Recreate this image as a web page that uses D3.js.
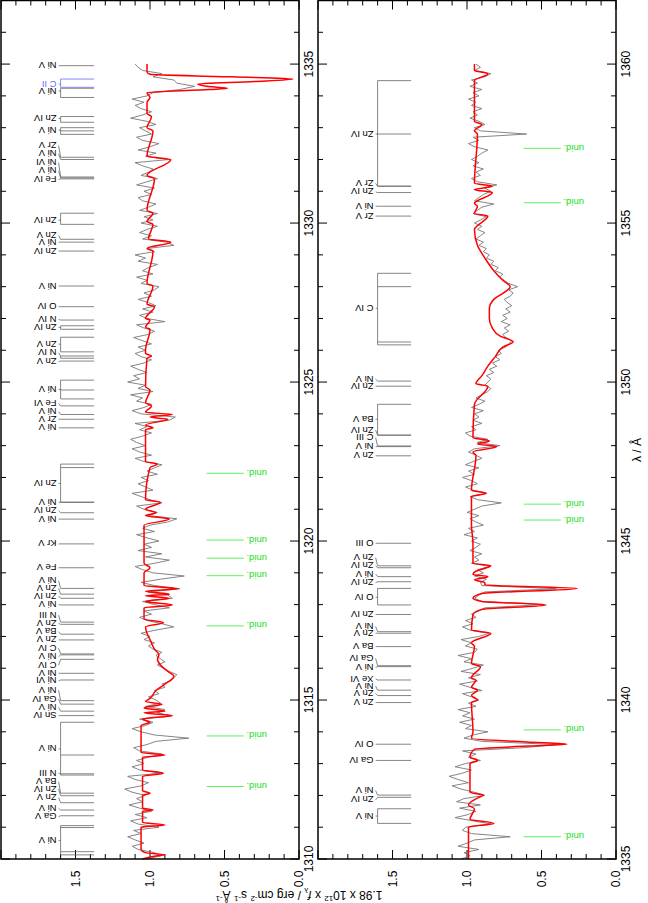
<!DOCTYPE html>
<html><head><meta charset="utf-8">
<script src="https://cdn.jsdelivr.net/npm/d3@7"></script>
<style>body{margin:0;background:#fff}svg{display:block}text{font-family:"Liberation Sans",Arial,sans-serif}</style>
</head><body>
<svg id="c" width="648" height="903"></svg>
<script>
// ---------- DATA ----------
const panelRanges = [[1310, 1337], [1335, 1362]];
const fluxTicks = [0.0, 0.5, 1.0, 1.5];
const fluxTickLabels = ["0.0", "0.5", "1.0", "1.5"];
const lamTicks = [[1310, 1315, 1320, 1325, 1330, 1335], [1335, 1340, 1345, 1350, 1355, 1360]];
const obsStart = [1310.0, 1335.0];
const obsStep = 0.1;
const obsLeft = [
1.02,0.93,0.97,1.08,1.12,1.04,1.10,1.15,1.06,1.11,
0.94,1.08,1.13,1.02,1.10,0.99,1.07,1.14,1.05,1.09,
1.03,1.12,1.17,1.06,1.01,1.10,1.15,0.93,1.07,1.12,
1.04,1.09,1.01,0.92,1.07,1.11,1.02,0.96,0.74,0.97,
1.06,1.12,1.03,0.98,1.07,0.86,0.95,0.90,1.03,0.93,
0.96,1.01,0.94,0.97,0.90,0.92,0.86,0.84,0.82,0.87,
0.91,0.95,0.90,0.93,0.96,0.92,0.98,1.01,0.97,1.04,
1.00,1.06,0.96,0.84,0.92,1.02,1.07,0.99,1.04,0.87,
0.97,1.05,0.85,0.88,1.01,0.80,0.97,1.06,0.93,0.77,
0.98,1.05,1.10,0.97,0.87,1.03,0.92,1.08,0.99,1.04,
0.94,1.02,1.09,0.97,1.05,1.00,0.88,0.82,1.01,0.95,
1.04,1.09,0.92,1.00,1.06,1.12,0.98,1.03,1.08,1.01,
1.06,0.95,1.02,0.97,0.92,1.04,1.10,0.99,1.07,1.12,
1.03,1.09,1.13,1.05,0.99,1.07,1.02,1.10,0.87,0.83,
1.06,1.12,1.04,0.99,1.09,1.05,1.13,0.98,1.08,1.03,
1.15,1.07,1.11,1.02,1.08,1.13,1.04,0.99,1.06,1.10,
1.03,1.08,0.99,1.05,1.11,1.01,0.97,1.04,1.09,0.90,
1.02,1.07,0.98,1.05,0.96,1.01,1.08,0.99,1.04,0.97,
0.94,1.06,1.02,1.09,0.98,1.05,1.01,0.95,1.08,1.03,
1.10,0.97,1.02,0.84,0.89,1.05,0.99,1.07,1.02,0.95,
1.06,0.98,1.04,0.95,1.07,1.01,0.96,1.05,1.08,0.99,
1.04,0.97,1.09,1.02,0.95,1.06,1.01,0.98,1.05,1.10,
0.87,1.03,0.96,1.08,1.00,0.94,1.05,1.09,0.99,1.03,
1.07,0.96,1.02,1.13,1.05,0.99,1.06,1.10,1.04,1.12,
1.02,0.98,0.80,0.70,0.82,0.84,0.98,0.92,1.05,1.08,
1.10];
const obsRight = [
1.04,0.98,1.02,0.92,1.06,1.00,0.95,0.71,0.97,1.03,
1.01,0.84,0.96,1.08,0.99,0.94,1.05,0.91,1.07,1.02,
0.88,0.95,1.04,1.10,0.99,1.06,1.12,1.03,0.97,1.08,
1.01,0.91,0.99,0.94,1.03,0.62,0.40,0.90,1.02,0.96,
0.86,1.01,0.97,1.05,0.95,1.03,0.98,1.06,0.94,0.99,
0.92,0.97,1.03,0.90,0.98,1.05,0.93,0.99,0.91,1.04,
0.96,0.89,1.02,0.97,1.06,0.95,0.93,1.01,0.97,1.04,
0.92,0.85,0.98,1.03,0.96,1.01,0.94,0.97,0.92,0.88,
0.50,0.90,0.95,0.92,0.88,0.40,0.90,0.91,0.87,0.95,
0.89,0.93,0.84,0.97,0.92,0.95,0.90,0.98,0.94,0.91,
0.97,0.93,1.02,0.95,0.99,0.89,0.94,0.98,0.92,1.00,
0.95,0.90,0.77,0.93,0.98,0.87,0.96,1.01,0.93,0.97,
1.03,0.95,0.99,0.92,1.01,0.96,0.90,0.94,0.99,0.95,
0.78,0.93,0.86,0.98,1.01,0.94,0.97,0.90,0.96,0.92,
0.95,0.89,0.97,0.92,0.88,0.94,0.90,0.86,0.84,0.88,
0.86,0.84,0.87,0.82,0.85,0.80,0.83,0.78,0.81,0.77,
0.79,0.74,0.72,0.70,0.74,0.76,0.72,0.75,0.71,0.77,
0.73,0.76,0.71,0.74,0.70,0.73,0.75,0.71,0.69,0.72,
0.66,0.72,0.75,0.78,0.76,0.81,0.79,0.84,0.82,0.87,
0.85,0.89,0.87,0.92,0.89,0.94,0.91,0.88,0.93,0.90,
0.95,0.91,0.87,0.96,0.93,0.90,0.82,0.95,0.92,0.89,
0.84,0.88,0.80,0.93,0.97,0.91,0.94,0.89,0.96,0.92,
0.97,0.93,0.90,0.86,0.95,0.99,0.92,0.96,0.60,0.91,
0.95,0.88,0.92,0.98,0.93,0.96,0.90,0.97,0.94,0.99,
0.92,0.96,0.90,0.98,0.93,0.97,0.88,0.84,0.95,0.91,
0.94];
const modelLeft = [[1310.0,1.05],[1310.1,0.95],[1310.13,0.90],[1310.2,1.03],[1310.3,1.06],[1311.0,1.06],[1311.07,0.90],[1311.15,1.05],[1311.5,1.05],[1311.54,0.98],[1311.6,1.05],[1312.0,1.05],[1312.07,1.0],[1312.15,1.05],[1312.6,1.05],[1312.7,0.91],[1312.8,1.05],[1313.2,1.05],[1313.27,0.9],[1313.35,1.06],[1314.2,1.06],[1314.3,1.0],[1314.4,1.05],[1314.51,0.85],[1314.6,1.04],[1314.65,0.9],[1314.75,1.04],[1314.87,0.92],[1314.95,1.03],[1315.05,1.0],[1315.3,0.96],[1315.5,0.9],[1315.75,0.84],[1315.9,0.88],[1316.1,0.93],[1316.28,0.95],[1316.42,0.94],[1316.6,0.97],[1316.9,1.0],[1317.1,1.02],[1317.3,1.03],[1317.43,0.91],[1317.55,1.04],[1317.9,1.04],[1317.99,0.85],[1318.1,1.03],[1318.2,0.87],[1318.28,1.03],[1318.33,0.87],[1318.42,1.03],[1318.5,0.81],[1318.6,1.04],[1319.0,1.04],[1319.16,1.0],[1319.3,1.04],[1320.5,1.04],[1320.69,0.87],[1320.8,1.03],[1320.89,0.96],[1321.0,1.03],[1321.22,0.93],[1321.3,1.03],[1322.31,1.0],[1322.42,0.95],[1322.5,1.03],[1323.5,1.03],[1323.56,0.98],[1323.65,1.03],[1323.83,0.88],[1323.9,1.0],[1323.98,0.85],[1324.05,1.03],[1324.25,0.99],[1324.35,1.03],[1324.75,1.0],[1324.85,1.03],[1325.75,1.02],[1325.82,0.99],[1325.9,1.03],[1326.0,1.03],[1326.66,1.0],[1326.72,1.03],[1326.95,1.0],[1327.0,1.03],[1327.37,0.97],[1327.45,1.02],[1328.02,0.98],[1328.1,1.02],[1329.12,0.98],[1329.2,1.02],[1329.4,0.86],[1329.5,1.01],[1329.96,0.98],[1330.05,1.02],[1330.31,0.98],[1330.4,1.02],[1331.4,0.97],[1331.5,1.02],[1332.0,0.86],[1332.1,1.02],[1332.9,0.98],[1333.0,1.02],[1333.35,0.99],[1333.45,1.02],[1333.8,1.02],[1333.95,1.0],[1334.1,1.02],[1334.2,0.6],[1334.24,0.48],[1334.3,0.62],[1334.37,0.68],[1334.45,0.3],[1334.53,0.04],[1334.6,0.45],[1334.68,1.0],[1334.75,1.02],[1335.0,1.02]];
const modelRight = [[1335.0,0.99],[1336.0,0.99],[1336.12,0.82],[1336.25,0.98],[1336.58,0.95],[1336.7,0.99],[1336.94,0.92],[1337.01,0.89],[1337.1,0.98],[1338.0,0.98],[1338.1,0.93],[1338.2,0.98],[1338.45,0.95],[1338.55,0.6],[1338.61,0.33],[1338.68,0.6],[1338.8,0.97],[1339.0,0.96],[1339.92,0.97],[1340.0,0.93],[1340.14,0.97],[1340.31,0.93],[1340.4,0.97],[1340.63,0.94],[1340.7,0.97],[1341.05,0.91],[1341.15,0.97],[1341.68,0.95],[1341.8,0.97],[1342.1,0.84],[1342.2,0.97],[1342.69,0.96],[1342.85,0.9],[1342.99,0.47],[1343.1,0.9],[1343.2,0.96],[1343.35,0.9],[1343.51,0.26],[1343.62,0.88],[1343.69,0.88],[1343.78,0.95],[1343.88,0.86],[1343.95,0.96],[1344.05,0.94],[1344.16,0.87],[1344.22,0.84],[1344.3,0.96],[1344.93,0.96],[1345.5,0.97],[1346.4,0.97],[1346.5,0.87],[1346.6,0.97],[1347.68,0.94],[1347.8,0.96],[1347.97,0.80],[1348.05,0.93],[1348.15,0.85],[1348.25,0.96],[1349.3,0.95],[1349.87,0.86],[1349.95,0.94],[1350.2,0.9],[1350.5,0.86],[1350.8,0.81],[1351.1,0.76],[1351.27,0.69],[1351.45,0.78],[1351.7,0.83],[1352.0,0.85],[1352.3,0.85],[1352.6,0.82],[1352.85,0.74],[1353.0,0.71],[1353.2,0.76],[1353.5,0.82],[1353.9,0.88],[1354.3,0.93],[1354.8,0.95],[1355.22,0.86],[1355.3,0.95],[1355.53,0.93],[1355.62,0.95],[1355.96,0.83],[1356.05,0.95],[1356.16,0.83],[1356.25,0.95],[1357.8,0.93],[1357.9,0.95],[1358.1,0.9],[1358.2,0.95],[1359.48,0.95],[1359.7,0.86],[1359.8,0.95],[1360.0,0.95]];
// line identifications: [label, label wavelength, component wavelengths]
const idsLeft = [
["Ni V",1310.58,[1310.13,1310.23,1310.99,1311.05]],["Ga V",1311.33,[1311.36]],["Ni V",1311.59,[1311.54]],
["Zn V",1311.93,[1311.77]],["Zn IV",1312.2,[1311.99]],["Ba V",1312.43,[1312.07]],["N III",1312.7,[1312.68]],
["Ni V",1313.46,[1312.64,1313.27,1314.30]],["Sn IV",1314.51,[1314.51]],["Ni V",1314.77,[1314.65]],
["Ga IV",1315.03,[1314.87]],["Ni V",1315.31,[1314.98]],["Ni VI",1315.6,[1315.63]],["Ni V",1315.84,[1315.84]],
["C IV",1316.1,[1316.28]],["Ni V",1316.36,[1316.42]],["C IV",1316.63,[1316.45]],["Zn V",1316.89,[1316.89]],
["Ba V",1317.15,[1317.07]],["Zn V",1317.41,[1317.38]],["N III",1317.67,[1317.45]],["Ni V",1318.0,[1317.99]],
["Zn IV",1318.27,[1318.2]],["Zn V",1318.51,[1318.33]],["Ni V",1318.75,[1318.51]],["Fe V",1319.16,[1319.16]],
["Kr V",1319.91,[1319.91]],["Ni V",1320.69,[1320.69]],["Zn IV",1320.95,[1320.89]],["Ni V",1321.22,[1321.22]],
["Zn IV",1321.81,[1321.22,1322.31,1322.42]],["Ni V",1323.56,[1323.56]],["Zr V",1323.83,[1323.83]],
["Ni V",1324.07,[1323.98]],["Fe VI",1324.33,[1324.25]],["Ni V",1324.77,[1324.47,1324.75,1325.06]],
["Zn V",1325.64,[1325.66]],["N IV",1325.92,[1325.75,1325.82]],["Zn V",1326.19,[1325.95,1326.41]],
["Zn IV",1326.72,[1326.66,1326.77]],["N IV",1326.97,[1326.95]],["O IV",1327.37,[1327.37]],["Ni V",1328.02,[1328.02]],
["Zn IV",1329.12,[1329.12]],["Ni V",1329.4,[1329.4]],["Zn V",1329.61,[1329.49]],["Zn IV",1330.09,[1329.96,1330.31]],
["Fe IV",1331.37,[1331.39]],["Ni V",1331.64,[1331.42]],["Ni VI",1331.9,[1331.45]],["Ni V",1332.18,[1332.0]],
["Zr V",1332.44,[1332.07]],["Ni V",1332.92,[1332.79,1332.9,1333.0]],["Zn IV",1333.29,[1333.17,1333.35]],
["Ni V",1334.15,[1333.95,1334.24]],["C II",1334.37,[1334.27,1334.53]],["Ni V",1334.95,[1334.95]]];
const idsRight = [
["Ni V",1336.35,[1336.12,1336.58]],["Zn IV",1336.86,[1336.94]],["Ni V",1337.15,[1337.01]],["Ga IV",1338.1,[1338.1]],
["O IV",1338.61,[1338.61]],["Zn V",1339.92,[1339.92]],["Zn V",1340.21,[1340.14]],["Ni V",1340.44,[1340.31]],
["Xe VI",1340.66,[1340.63]],["Ni V",1341.03,[1341.05]],["Ga IV",1341.31,[1341.08]],["Ba V",1341.68,[1341.68]],
["Zn V",1342.1,[1342.1]],["Ni V",1342.31,[1342.15]],["Zn IV",1342.69,[1342.69]],["O IV",1343.23,[1342.99,1343.51]],
["Zn IV",1343.69,[1343.72]],["Ni V",1343.96,[1343.88]],["Zn IV",1344.22,[1344.16]],["Zn V",1344.48,[1344.22]],
["O III",1344.93,[1344.93]],["Zn V",1347.68,[1347.68]],["Ni V",1347.97,[1347.97]],["C III",1348.25,[1347.99]],
["Zn IV",1348.49,[1348.33]],["Ba V",1348.83,[1348.33,1349.3]],["Zn IV",1349.87,[1349.87]],["Ni V",1350.09,[1350.03]],
["C IV",1352.32,[1351.17,1351.26,1353.0,1353.42]],["Zr V",1355.22,[1355.22]],["Ni V",1355.53,[1355.53]],
["Zn IV",1355.98,[1355.96]],["Zr V",1356.25,[1356.16]],["Zn IV",1357.8,[1356.16,1357.8,1359.48]]];
const bluesLeft = ["C II"];
const unidLeft = [1312.28, 1313.87, 1317.33, 1318.91, 1319.46, 1320.03, 1322.13];
const unidRight = [1335.7, 1339.06, 1345.66, 1346.16, 1355.64, 1357.35];

// ---------- DRAW ----------
const svg = d3.select("#c");
const panels = [
  {x0: 1, x1: 299, lam: panelRanges[0], obs: obsLeft, start: obsStart[0], model: modelLeft, ids: idsLeft, unid: unidLeft, ticks: lamTicks[0], blue: true},
  {x0: 318, x1: 616, lam: panelRanges[1], obs: obsRight, start: obsStart[1], model: modelRight, ids: idsRight, unid: unidRight, ticks: lamTicks[1], blue: false}
];
const yTop = 0.5, yBot = 859;
panels.forEach(p => {
  const fx = d3.scaleLinear().domain([0, 2]).range([p.x1, p.x0]);
  const ly = d3.scaleLinear().domain(p.lam).range([yBot, yTop]);
  const g = svg.append("g");
  const lt = d3.range(Math.ceil(p.lam[0]), p.lam[1] + 0.001, 1);
  lt.forEach(l => {
    const major = l % 5 === 0, len = major ? 9 : 5;
    g.append("line").attr("x1", p.x0).attr("x2", p.x0 + len).attr("y1", ly(l)).attr("y2", ly(l)).attr("stroke", "#000");
    g.append("line").attr("x1", p.x1).attr("x2", p.x1 - len).attr("y1", ly(l)).attr("y2", ly(l)).attr("stroke", "#000");
  });
  const ft = d3.range(0, 2.0001, 0.1);
  ft.forEach(f => {
    const major = Math.abs(f * 2 - Math.round(f * 2)) < 1e-6, len = major ? 9 : 5;
    g.append("line").attr("x1", fx(f)).attr("x2", fx(f)).attr("y1", yBot).attr("y2", yBot - len).attr("stroke", "#000");
    g.append("line").attr("x1", fx(f)).attr("x2", fx(f)).attr("y1", yTop).attr("y2", yTop + len).attr("stroke", "#000");
  });
  p.ticks.forEach(l => {
    g.append("text").attr("transform", `translate(${p.x1 + 14},${ly(l)}) rotate(-90)`)
      .attr("text-anchor", "middle").attr("font-size", 12).text(l);
  });
  fluxTicks.forEach((f, i) => {
    g.append("text").attr("transform", `translate(${fx(f) + 4},${yBot + 20}) rotate(-90)`)
      .attr("text-anchor", "middle").attr("font-size", 12).text(fluxTickLabels[i]);
  });
  const xB = fx(1.6), xE = fx(1.375), xL = fx(1.62);
  p.ids.forEach(d => {
    const col = (p.blue && bluesLeft.includes(d[0])) ? "#6a6aff" : "#666";
    const ys = d[2].map(ly), yl = ly(d[1]);
    const ymin = d3.min(ys), ymax = d3.max(ys);
    ys.forEach(y => g.append("line").attr("x1", xB).attr("x2", xE).attr("y1", y).attr("y2", y).attr("stroke", col).attr("stroke-width", 0.8));
    if (ys.length > 1) g.append("line").attr("x1", xB).attr("x2", xB).attr("y1", ymin).attr("y2", ymax).attr("stroke", col).attr("stroke-width", 0.8);
    const yt = Math.max(ymin, Math.min(ymax, yl));
    g.append("line").attr("x1", xL + 1).attr("x2", xB).attr("y1", yl).attr("y2", yt).attr("stroke", col).attr("stroke-width", 0.8);
    g.append("text").attr("transform", `translate(${xL - 1},${yl}) rotate(180)`)
      .attr("dominant-baseline", "central").attr("font-size", 9.5).attr("fill", col === "#666" ? "#000" : col).text(d[0]);
  });
  p.unid.forEach(l => {
    g.append("line").attr("x1", fx(0.62)).attr("x2", fx(0.37)).attr("y1", ly(l)).attr("y2", ly(l)).attr("stroke", "#33ee33").attr("stroke-width", 0.8);
    g.append("text").attr("transform", `translate(${fx(0.215)},${ly(l)}) rotate(180)`)
      .attr("dominant-baseline", "central").attr("font-size", 9.5).attr("fill", "#22dd22").text("unid.");
  });
  const obsPts = p.obs.map((v, i) => [p.start + i * obsStep, v]);
  g.append("path").datum(obsPts).attr("fill", "none").attr("stroke", "#777").attr("stroke-width", 0.9)
    .attr("d", d3.line().x(d => fx(d[1])).y(d => ly(d[0])));
  g.append("path").datum(p.model).attr("fill", "none").attr("stroke", "#ff0000").attr("stroke-width", 1.5)
    .attr("d", d3.line().x(d => fx(d[1])).y(d => ly(d[0])).curve(d3.curveMonotoneY));
  g.append("rect").attr("x", p.x0).attr("y", yTop).attr("width", p.x1 - p.x0).attr("height", yBot - yTop)
    .attr("fill", "none").attr("stroke", "#000").attr("stroke-width", 1.5);
});
svg.append("text").attr("transform", "translate(641,450) rotate(-90)").attr("text-anchor", "middle").attr("font-size", 12).text("λ / Å");
const t = svg.append("text").attr("transform", "translate(299,891) rotate(180)").attr("text-anchor", "middle").attr("font-size", 12);
t.append("tspan").text("1.98 x 10");
t.append("tspan").attr("font-size", 8).attr("dy", -5).text("12");
t.append("tspan").attr("dy", 5).text(" x ");
t.append("tspan").attr("font-style", "italic").text("f");
t.append("tspan").attr("font-size", 8).attr("dy", 3).text("λ");
t.append("tspan").attr("dy", -3).text(" / erg cm");
t.append("tspan").attr("font-size", 8).attr("dy", -5).text("-2");
t.append("tspan").attr("dy", 5).text(" s");
t.append("tspan").attr("font-size", 8).attr("dy", -5).text("-1");
t.append("tspan").attr("dy", 5).text(" Å");
t.append("tspan").attr("font-size", 8).attr("dy", -5).text("-1");
</script>
</body></html>
